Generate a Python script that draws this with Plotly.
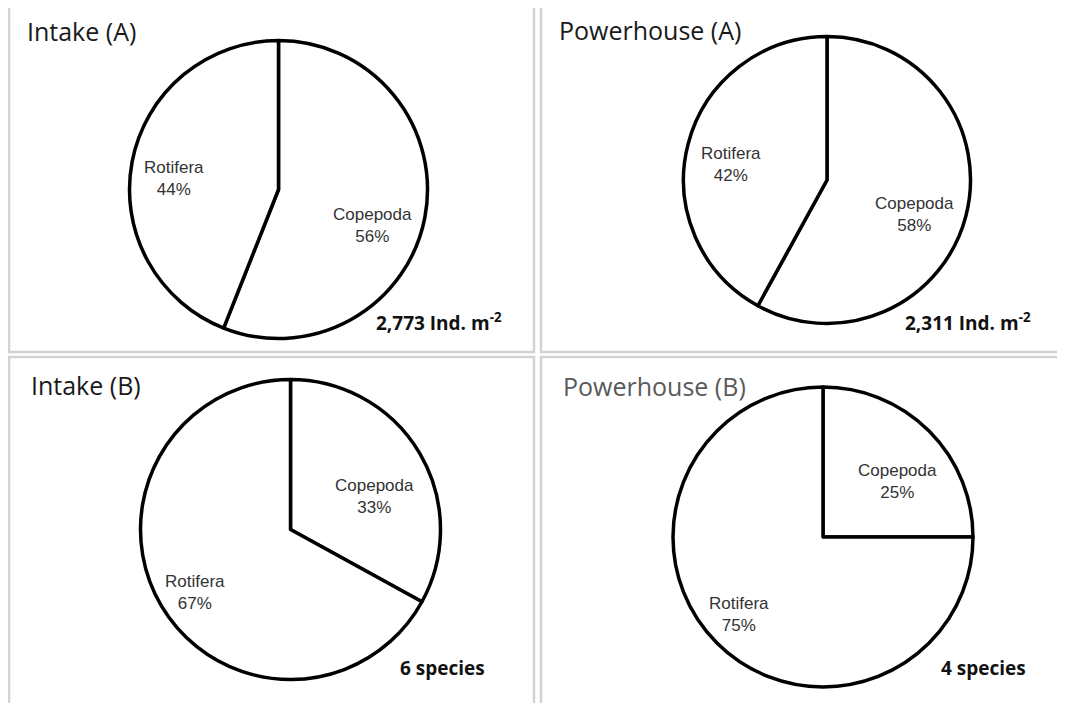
import plotly.graph_objects as go

# ---- data ----
categories = ["Copepoda", "Rotifera"]
panel_titles = ["Intake (A)", "Powerhouse (A)", "Intake (B)", "Powerhouse (B)"]
intake_a = [56, 44]
powerhouse_a = [58, 42]
intake_b = [33, 67]
powerhouse_b = [25, 75]
panel_notes = ["2,773 Ind. m<sup>-2</sup>", "2,311 Ind. m<sup>-2</sup>", "6 species", "4 species"]

series = [intake_a, powerhouse_a, intake_b, powerhouse_b]

# ---- layout (window pixels; page body has an 8px margin) ----
OFF = 8
W, H = 1065 - OFF, 703 - OFF


def px(x):
    return (x - OFF) / W


def py(y):
    return 1 - (y - OFF) / H


pie_geom = [(278.5, 189.5, 149), (827, 180, 143.5), (290.5, 529.5, 150), (823, 537, 150)]
# label centres per slice, order = categories
label_pos = [
    [(372, 225), (174, 178)],
    [(914, 215), (731, 165)],
    [(374, 496), (195, 592)],
    [(897, 482), (739, 614)],
]
title_pos = [(25, 31), (557, 30), (29, 385), (561, 386)]
title_colors = ["#1a1a1a", "#1a1a1a", "#1a1a1a", "#5a5a5a"]
note_pos = [(504, 322), (1033, 322), (487, 668), (1028, 668)]
panels = [(9, 5, 534, 352), (541, 5, 1075, 352), (9, 357, 534, 712), (541, 357, 1075, 712)]

fig = go.Figure()
for vals, (cx, cy, r) in zip(series, pie_geom):
    fig.add_trace(go.Pie(
        labels=categories,
        values=vals,
        sort=False,
        direction="clockwise",
        rotation=0,
        marker=dict(colors=["white", "white"], line=dict(color="black", width=3.5)),
        textinfo="none",
        domain=dict(x=[px(cx - r), px(cx + r)], y=[py(cy + r), py(cy - r)]),
        showlegend=False,
        hoverinfo="label+percent",
    ))

shapes = []
for x0, y0, x1, y1 in panels:
    shapes.append(dict(type="rect", xref="paper", yref="paper",
                       x0=px(x0), x1=px(x1), y0=py(y1), y1=py(y0),
                       line=dict(color="#d3d3d3", width=2.5),
                       fillcolor="rgba(0,0,0,0)", layer="below"))

annotations = []
for vals, positions in zip(series, label_pos):
    total = sum(vals)
    for cat, v, (x, y) in zip(categories, vals, positions):
        annotations.append(dict(
            text=f"{cat}<br>{round(100 * v / total)}%",
            x=px(x), y=py(y), xref="paper", yref="paper",
            xanchor="center", yanchor="middle", showarrow=False, align="center",
            font=dict(family="Liberation Sans, Arial", size=17, color="#333333")))
for t, (x, y), c in zip(panel_titles, title_pos, title_colors):
    annotations.append(dict(text=t, x=px(x), y=py(y), xref="paper", yref="paper",
                            xanchor="left", yanchor="middle", showarrow=False,
                            font=dict(family="Open Sans, Noto Sans", size=25, color=c)))
for t, (x, y) in zip(panel_notes, note_pos):
    annotations.append(dict(text="<b>" + t + "</b>", x=px(x), y=py(y), xref="paper", yref="paper",
                            xanchor="right", yanchor="middle", showarrow=False,
                            font=dict(family="Open Sans, Noto Sans", size=19, color="#111111")))

fig.update_layout(width=W, height=H, margin=dict(l=0, r=0, t=0, b=0),
                  paper_bgcolor="white", plot_bgcolor="white",
                  shapes=shapes, annotations=annotations)
fig.write_html("out.html")
